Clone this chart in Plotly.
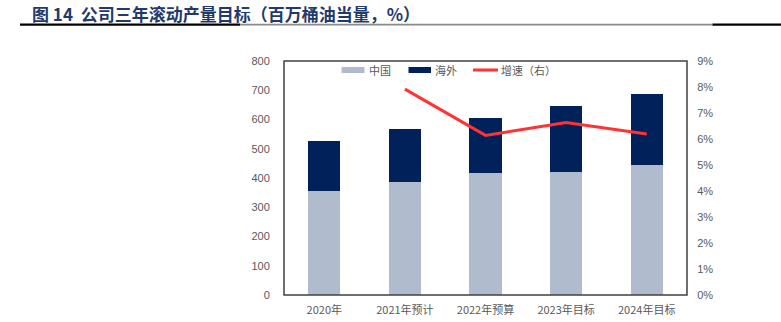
import plotly.graph_objects as go

categories = ["2020年", "2021年预计", "2022年预算", "2023年目标", "2024年目标"]
china = [354, 388, 417, 419, 446]
overseas = [173, 181, 189, 226, 241]
growth = [None, 0.0792, 0.0614, 0.0663, 0.0619]

W, H = 781, 322
L, R, T, B = 284, 687, 61, 295

CJK = "Noto Sans CJK SC"
grey = "#595959"

fig = go.Figure()
fig.add_trace(go.Bar(x=categories, y=china, name="中国", marker=dict(color="#B0BCCE", line=dict(width=0)), width=0.4))
fig.add_trace(go.Bar(x=categories, y=overseas, name="海外", marker=dict(color="#00215A", line=dict(width=0)), width=0.4))
fig.add_trace(go.Scatter(x=categories, y=growth, name="增速（右）", mode="lines", yaxis="y2",
                         line=dict(color="#FF3333", width=3), connectgaps=False))

def px(x):
    return (x - L) / (R - L)

def py(y):
    return (B - y) / (B - T)

shapes = [
    dict(type="rect", xref="paper", yref="paper", x0=0, x1=1, y0=0, y1=1,
         line=dict(color="#404040", width=1.5), fillcolor="rgba(0,0,0,0)", layer="above"),
    # title underline
    dict(type="rect", xref="paper", yref="paper", x0=px(240), x1=px(712.5), y0=py(25.5), y1=py(23.8),
         fillcolor="#8A8A8A", line=dict(width=0), layer="above"),
    dict(type="rect", xref="paper", yref="paper", x0=px(20), x1=px(240), y0=py(25.8), y1=py(23.5),
         fillcolor="#000000", line=dict(width=0), layer="above"),
    dict(type="rect", xref="paper", yref="paper", x0=px(712.5), x1=px(781), y0=py(25.8), y1=py(23.5),
         fillcolor="#000000", line=dict(width=0), layer="above"),
    # legend swatches
    dict(type="rect", xref="paper", yref="paper", x0=px(341.5), x1=px(364.5), y0=py(73), y1=py(67),
         fillcolor="#B0BCCE", line=dict(width=0)),
    dict(type="rect", xref="paper", yref="paper", x0=px(408.5), x1=px(431), y0=py(73), y1=py(67),
         fillcolor="#00215A", line=dict(width=0)),
    dict(type="line", xref="paper", yref="paper", x0=px(473), x1=px(498), y0=py(70), y1=py(70),
         line=dict(color="#FF3333", width=3)),
]

annotations = [
    dict(text="<b>图 14  公司三年滚动产量目标（百万桶油当量，%）</b>", xref="paper", yref="paper",
         x=px(30), y=py(13), xanchor="left", yanchor="middle", showarrow=False,
         font=dict(family=CJK, size=17, color="#1F3A6B")),
    dict(text="中国", xref="paper", yref="paper", x=px(367), y=py(70), xanchor="left", yanchor="middle",
         showarrow=False, font=dict(family=CJK, size=11, color=grey)),
    dict(text="海外", xref="paper", yref="paper", x=px(433), y=py(70), xanchor="left", yanchor="middle",
         showarrow=False, font=dict(family=CJK, size=11, color=grey)),
    dict(text="增速（右）", xref="paper", yref="paper", x=px(499), y=py(70), xanchor="left", yanchor="middle",
         showarrow=False, font=dict(family=CJK, size=11, color=grey)),
]

fig.update_layout(
    width=W, height=H,
    margin=dict(l=L, r=W - R, t=T, b=H - B, pad=0),
    barmode="stack",
    showlegend=False,
    plot_bgcolor="white", paper_bgcolor="white",
    font=dict(family=CJK, size=11, color=grey),
    xaxis=dict(showgrid=False, showline=False, ticks="outside", ticklen=5, tickcolor="rgba(0,0,0,0)",
               tickfont=dict(size=11, color=grey), automargin=False),
    yaxis=dict(range=[0, 800], dtick=100, showgrid=False, showline=False, zeroline=False,
               ticks="outside", ticklen=11, tickcolor="rgba(0,0,0,0)", automargin=False,
               tickfont=dict(family="Liberation Sans", size=11, color=grey)),
    yaxis2=dict(range=[0, 0.09], dtick=0.01, tickformat=".0%", overlaying="y", side="right",
                showgrid=False, showline=False, zeroline=False, automargin=False,
                ticks="outside", ticklen=7, tickcolor="rgba(0,0,0,0)",
                tickfont=dict(family="Liberation Sans", size=11, color=grey)),
    shapes=shapes,
    annotations=annotations,
)

fig.write_html("out.html")
